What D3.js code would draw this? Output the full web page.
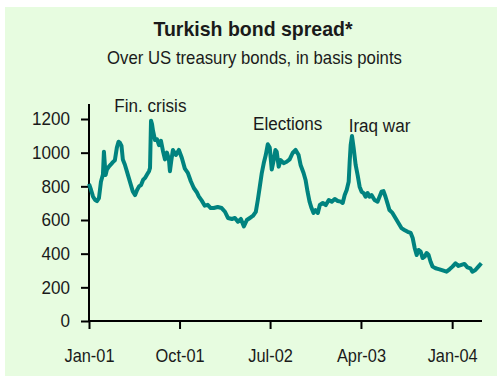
<!DOCTYPE html>
<html>
<head>
<meta charset="utf-8">
<script src="https://cdn.jsdelivr.net/npm/d3@7/dist/d3.min.js"></script>
<style>
  html, body { margin: 0; padding: 0; background: #ffffff; }
  svg { display: block; }
  text { font-family: "Liberation Sans", Arial, sans-serif; fill: #1a1a1a; }
</style>
</head>
<body>
<svg id="chart" width="497" height="376"></svg>
<script>
// Turkish bond spread over US treasuries, basis points
const dates = [
  "2001-01-01","2001-01-07","2001-01-13","2001-01-19","2001-01-25","2001-01-31","2001-02-06","2001-02-12",
  "2001-02-15","2001-02-20","2001-02-24","2001-03-02","2001-03-08","2001-03-14","2001-03-20","2001-03-26",
  "2001-03-31","2001-04-04","2001-04-09","2001-04-13","2001-04-19","2001-04-25","2001-05-01","2001-05-07",
  "2001-05-13","2001-05-20","2001-05-26","2001-06-01","2001-06-07","2001-06-13","2001-06-19","2001-06-25",
  "2001-07-01","2001-07-04","2001-07-07","2001-07-10","2001-07-13","2001-07-19","2001-07-25","2001-07-31",
  "2001-08-06","2001-08-12","2001-08-18","2001-08-24","2001-08-30","2001-09-02","2001-09-06","2001-09-11",
  "2001-09-20","2001-09-29","2001-10-08","2001-10-17","2001-10-26","2001-11-04","2001-11-13","2001-11-22",
  "2001-11-28","2001-12-07","2001-12-16","2001-12-25","2002-01-03","2002-01-12","2002-01-24","2002-02-05",
  "2002-02-15","2002-02-24","2002-03-08","2002-03-17","2002-03-26","2002-04-04","2002-04-13","2002-04-22",
  "2002-05-01","2002-05-10","2002-05-19","2002-05-25","2002-05-31","2002-06-06","2002-06-12","2002-06-18",
  "2002-06-24","2002-06-30","2002-07-06","2002-07-12","2002-07-17","2002-07-21","2002-07-27","2002-08-02",
  "2002-08-11","2002-08-20","2002-08-29","2002-09-07","2002-09-16","2002-09-25","2002-10-01","2002-10-10",
  "2002-10-16","2002-10-22","2002-10-28","2002-11-03","2002-11-09","2002-11-15","2002-11-22","2002-11-28",
  "2002-12-07","2002-12-16","2002-12-25","2003-01-03","2003-01-12","2003-01-21","2003-01-30","2003-02-05",
  "2003-02-11","2003-02-17","2003-02-23","2003-02-26","2003-03-01","2003-03-05","2003-03-10","2003-03-16",
  "2003-03-22","2003-03-28","2003-04-03","2003-04-09","2003-04-15","2003-04-21","2003-04-27","2003-05-03",
  "2003-05-12","2003-05-21","2003-05-27","2003-06-02","2003-06-08","2003-06-14","2003-06-20","2003-06-26",
  "2003-07-05","2003-07-14","2003-07-23","2003-08-01","2003-08-10","2003-08-20","2003-08-29","2003-09-04",
  "2003-09-10","2003-09-16","2003-09-22","2003-09-28","2003-10-04","2003-10-10","2003-10-16","2003-10-22",
  "2003-10-28","2003-11-03","2003-11-12","2003-11-24","2003-12-06","2003-12-15","2003-12-24","2004-01-02",
  "2004-01-11","2004-01-20","2004-01-29","2004-02-07","2004-02-16","2004-02-25","2004-03-02","2004-03-11",
  "2004-03-20","2004-03-29"
];
const spread = [
  815, 780, 740, 720, 712, 730, 827, 870,
  1006, 867, 900, 917, 930, 944, 955, 1030,
  1065, 1060, 1040, 960, 930, 890, 850, 810,
  770, 748, 778, 800, 808, 838, 850, 870,
  890, 909, 1190, 1170, 1130, 1075, 1080, 1045,
  1070, 1010, 960, 1000, 960, 890, 950, 1016,
  986, 1016, 968, 905, 880, 830, 790, 765,
  740, 715, 685, 690, 671, 671, 677, 671,
  649, 612, 606, 612, 590, 606, 562, 600,
  612, 624, 648, 719, 798, 879, 938, 986,
  1050, 1030, 900, 956, 1016, 1006, 917, 956,
  938, 946, 960, 998, 1016, 986, 927, 879,
  838, 768, 709, 671, 642, 659, 642, 689,
  701, 689, 719, 709, 725, 713, 709, 701,
  748, 778, 827, 946, 1045, 1099, 1028, 927,
  867, 798, 768, 760, 738, 760, 738, 748,
  719, 709, 738, 768, 772, 738, 699, 659,
  642, 612, 582, 552, 541, 530, 523, 493,
  434, 392, 422, 412, 374, 382, 404, 392,
  352, 323, 313, 307, 299, 293, 307, 323,
  343, 327, 333, 339, 319, 313, 293, 303,
  323, 343
];

const xTickDates = ["2001-01-01", "2001-10-01", "2002-07-01", "2003-04-01", "2004-01-01"];
const xTickLabels = ["Jan-01", "Oct-01", "Jul-02", "Apr-03", "Jan-04"];
const yTicks = [0, 200, 400, 600, 800, 1000, 1200];

const events = ["Fin. crisis", "Elections", "Iraq war"];
const eventDates = ["2001-07-05", "2002-08-23", "2003-05-27"];
const eventLevels = [1241, 1135, 1122];

const titleText = "Turkish bond spread*";
const subtitleText = "Over US treasury bonds, in basis points";

const parse = d3.timeParse("%Y-%m-%d");
const series = dates.map((d, i) => ({ date: parse(d), value: spread[i] }));

const svg = d3.select("#chart");
const W = 497, H = 376;

// panel background
svg.append("rect")
  .attr("x", 5).attr("y", 7)
  .attr("width", W - 5).attr("height", H - 7)
  .attr("fill", "#e7fce0");

const x = d3.scaleTime()
  .domain([parse("2001-01-01"), parse("2004-03-31")])
  .range([89, 482]);

const y = d3.scaleLinear()
  .domain([0, 1200])
  .range([321, 119]);

// condensed text helper: squeeze a label horizontally around its anchor point
function squeezed(sel, px, py, k) {
  return sel.attr("x", 0).attr("y", 0)
    .attr("transform", `translate(${px},${py}) scale(${k},1)`);
}

// title block
squeezed(svg.append("text"), 253, 36, 0.93)
  .attr("text-anchor", "middle")
  .style("font-size", "21px").style("font-weight", "bold")
  .text(titleText);

squeezed(svg.append("text"), 254.5, 64, 0.93)
  .attr("text-anchor", "middle")
  .style("font-size", "18px")
  .text(subtitleText);

// y axis
const yAxis = d3.axisLeft(y)
  .tickValues(yTicks)
  .tickSize(8)
  .tickPadding(12)
  .tickFormat(d3.format("d"));

const gy = svg.append("g")
  .attr("transform", "translate(89,0)")
  .call(yAxis);
gy.select(".domain").attr("stroke", "#000").attr("stroke-width", 2)
  .attr("d", `M0,${y(0)}V104`);
gy.selectAll(".tick line").attr("stroke", "#000").attr("stroke-width", 2);
gy.selectAll(".tick text")
  .style("font-size", "18px")
  .attr("transform", "scale(0.95,1)")
  .attr("x", -20)
  .attr("fill", "#1a1a1a");

// x axis
const xAxis = d3.axisBottom(x)
  .tickValues(xTickDates.map(parse))
  .tickSize(8)
  .tickPadding(20)
  .tickFormat((d, i) => xTickLabels[i]);

const gx = svg.append("g")
  .attr("transform", `translate(0,${y(0)})`)
  .call(xAxis);
gx.select(".domain").attr("stroke", "#000").attr("stroke-width", 2)
  .attr("d", `M${x.range()[0]},0H${x.range()[1]}`);
gx.selectAll(".tick line").attr("stroke", "#000").attr("stroke-width", 2);
gx.selectAll(".tick text")
  .style("font-size", "18px")
  .attr("transform", "scale(0.91,1)")
  .attr("fill", "#1a1a1a");

// spread line
const line = d3.line()
  .x(d => x(d.date))
  .y(d => y(d.value));

svg.append("path")
  .datum(series)
  .attr("fill", "none")
  .attr("stroke", "#00837f")
  .attr("stroke-width", 4)
  .attr("stroke-linejoin", "round")
  .attr("d", line);

// event labels
events.forEach((label, i) => {
  squeezed(svg.append("text"), x(parse(eventDates[i])), y(eventLevels[i]), 0.9)
    .attr("class", "event")
    .attr("text-anchor", "middle")
    .style("font-size", "19px")
    .text(label);
});
</script>
</body>
</html>
